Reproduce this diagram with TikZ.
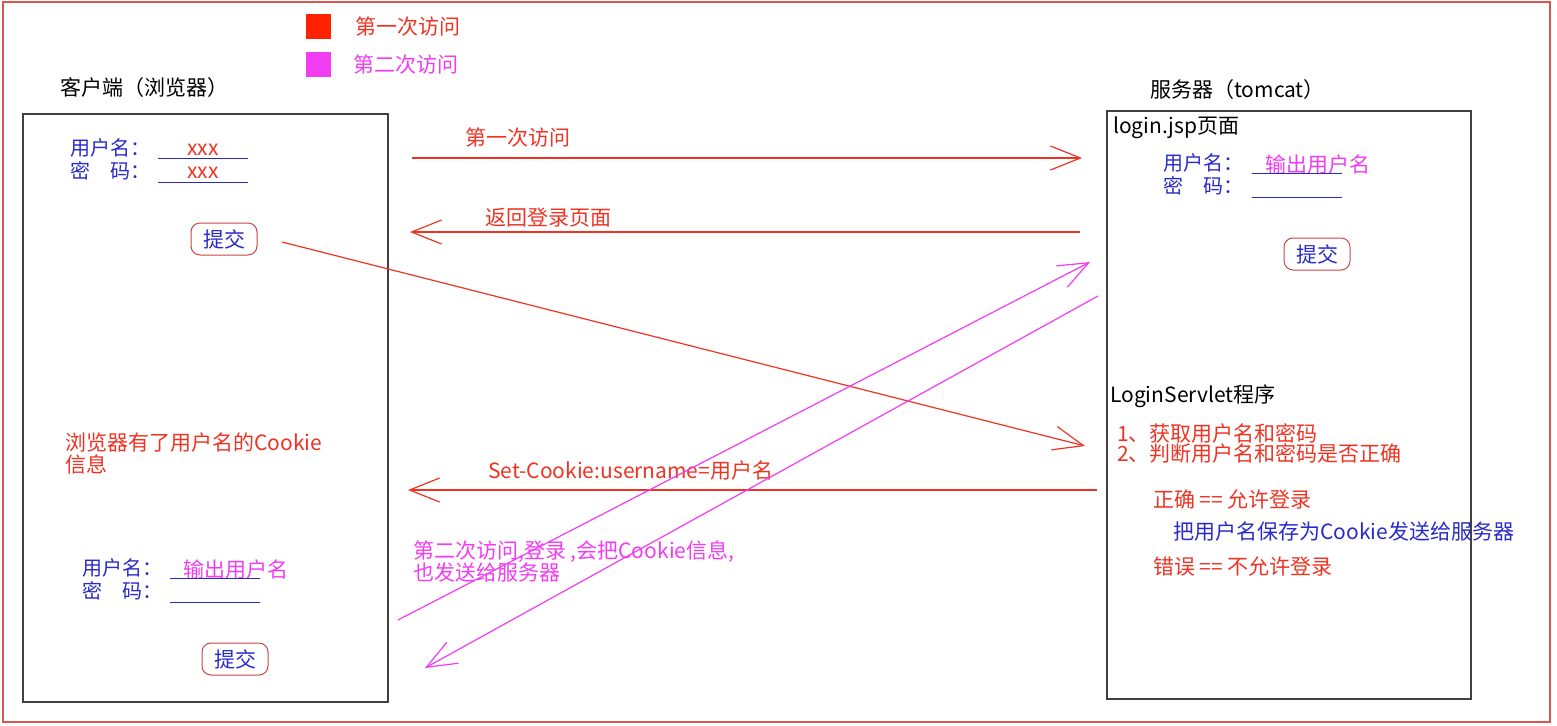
\documentclass[tikz,border=0pt]{standalone}
\usepackage{fontspec}
\setmainfont{Noto Sans CJK SC}
\usepackage{tikz}
\usetikzlibrary{arrows.meta, positioning, calc}
\definecolor{framered}{HTML}{D9574F}
\definecolor{boxgrey}{HTML}{404040}
\definecolor{txtred}{HTML}{EE3322}
\definecolor{keyred}{HTML}{FF2200}
\definecolor{mag}{HTML}{F23CF2}
\definecolor{formblue}{HTML}{2A2AC8}
\definecolor{btnred}{HTML}{CC4444}
\tikzset{
  txt/.style      = {inner sep=0pt, anchor=west, align=left,
                     font=\fontsize{21}{22}\selectfont},
  hdr/.style      = {txt, text=black},
  redtxt/.style   = {txt, text=txtred},
  magtxt/.style   = {txt, text=mag},
  formlbl/.style  = {txt, text=formblue, text height=16pt, text depth=6pt,
                     font=\fontsize{20}{22}\selectfont},
  field/.style    = {txt, anchor=center, minimum width=89pt,
                     text height=14pt, text depth=3pt},
  uline/.style    = {draw=formblue, line width=1.2pt},
  panel/.style    = {draw=boxgrey, line width=1.5pt, anchor=north west},
  keybox/.style   = {minimum size=25pt, inner sep=0pt, anchor=north west},
  submit/.style   = {draw=btnred, line width=1pt, rounded corners=9pt,
                     minimum width=66pt, minimum height=32pt, inner sep=0pt,
                     text=formblue, font=\fontsize{21}{22}\selectfont},
  flow/.style     = {-{Straight Barb[length=30pt, width=24pt]},
                     line width=1.2pt, draw=txtred},
  flow2/.style    = {flow, draw=mag},
}
\begin{document}
\begin{tikzpicture}[x=1pt, y=-1pt]
    \useasboundingbox (0,0) rectangle (1557,725);
    \draw[framered, line width=2pt] (3,2) rectangle (1550,722);

    % legend
    \node[keybox, fill=keyred] (key1) at (306,14) {};
    \node[redtxt, right=24pt of key1] (key1txt) {第一次访问};
    \node[keybox, fill=mag] (key2) at (306,52) {};
    \node[magtxt, right=22pt of key2] (key2txt) {第二次访问};

    % client side
    \node[hdr] (clienttitle) at (60,88) {客户端（浏览器）};
    \node[panel, minimum width=365pt, minimum height=588pt] (client) at (22,113) {};
    \node[formlbl] (cuser) at (70,150) {用户名：};
    \node[formlbl, below=1pt of cuser] (cpwd) {密\hspace{1em}码：};
    \node[field, text=txtred, right=8pt of cuser] (cuserf) {xxx};
    \node[field, text=txtred, right=8pt of cpwd] (cpwdf) {xxx};
    \draw[uline] (cuserf.south west) -- (cuserf.south east);
    \draw[uline] (cpwdf.south west) -- (cpwdf.south east);
    \node[submit] (cbtn) at (224,239) {提交};

    \node[redtxt] (cookienote) at (65,453) {浏览器有了用户名的Cookie\\信息};

    \node[formlbl] (c2user) at (82,570) {用户名：};
    \node[formlbl, below=1pt of c2user] (c2pwd) {密\hspace{1em}码：};
    \node[field, right=8pt of c2user] (c2userf) {};
    \node[field, right=8pt of c2pwd] (c2pwdf) {};
    \node[magtxt] (c2userv) at ([xshift=13pt]c2userf.west) {输出用户名};
    \draw[uline] (c2userf.south west) -- (c2userf.south east);
    \draw[uline] (c2pwdf.south west) -- (c2pwdf.south east);
    \node[submit] (c2btn) at (235,659) {提交};

    % server side
    \node[hdr] (servertitle) at (1150,90) {服务器（tomcat）};
    \node[panel, minimum width=364pt, minimum height=588pt] (server) at (1106,110) {};
    \node[hdr] (jsp) at (1113,128) {login.jsp页面};
    \node[formlbl] (suser) at (1163,165) {用户名：};
    \node[formlbl, below=1pt of suser] (spwd) {密\hspace{1em}码：};
    \node[field, right=9pt of suser] (suserf) {};
    \node[field, right=9pt of spwd] (spwdf) {};
    \node[magtxt] (suserv) at ([xshift=13pt]suserf.west) {输出用户名};
    \draw[uline] (suserf.south west) -- (suserf.south east);
    \draw[uline] (spwdf.south west) -- (spwdf.south east);
    \node[submit] (sbtn) at (1317,254) {提交};

    \node[hdr] (servlet) at (1110,396) {LoginServlet程序};
    \node[redtxt, font=\fontsize{21}{20}\selectfont] (steps) at (1117,443)
      {1、获取用户名和密码\\2、判断用户名和密码是否正确};
    \node[redtxt] (okline) at (1153,499) {正确 == 允许登录};
    \node[txt, text=formblue] (saveline) at (1173,532) {把用户名保存为Cookie发送给服务器};
    \node[redtxt] (errline) at (1153,566) {错误 == 不允许登录};

    % connectors
    \coordinate (a1s) at (412,158);  \coordinate (a1e) at (1082,158);
    \coordinate (a2s) at (1080,232); \coordinate (a2e) at (410,232);
    \coordinate (a3s) at (282,242);  \coordinate (a3e) at (1085,446);
    \coordinate (a4s) at (1097,490); \coordinate (a4e) at (408,490);
    \coordinate (a5s) at (398,620);  \coordinate (a5e) at (1090,262);
    \coordinate (a6s) at (1098,296); \coordinate (a6e) at (425,668);

    \draw[flow] (a1s) -- (a1e);
    \node[redtxt] (a1lbl) at (465,138) {第一次访问};
    \draw[flow] (a2s) -- (a2e);
    \node[redtxt] (a2lbl) at (485,218) {返回登录页面};
    \draw[flow] (a3s) -- (a3e);
    \draw[flow] (a4s) -- (a4e);
    \node[redtxt] (a4lbl) at (488,471) {Set-Cookie:username=用户名};
    \draw[flow2] (a5s) -- (a5e);
    \draw[flow2] (a6s) -- (a6e);
    \node[magtxt] (a5lbl) at (413,561) {第二次访问,登录 ,会把Cookie信息,\\也发送给服务器};
\end{tikzpicture}
\end{document}
